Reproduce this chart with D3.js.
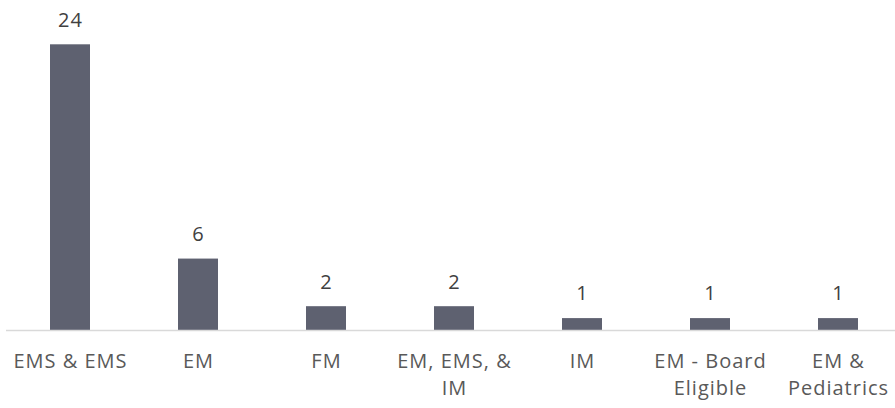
<!DOCTYPE html>
<html><head><meta charset="utf-8">
<script src="https://cdn.jsdelivr.net/npm/d3@7"></script>
<style>
html,body{margin:0;padding:0;background:#fff;}
svg{display:block;}
text{font-family:"Open Sans","Noto Sans",sans-serif;}
</style></head>
<body>
<svg id="chart" width="895" height="408"></svg>
<script>
const categories = ["EMS & EMS", "EM", "FM", "EM, EMS, & IM", "IM", "EM - Board Eligible", "EM & Pediatrics"];
const values = [24, 6, 2, 2, 1, 1, 1];

const svg = d3.select("#chart");
const baseY = 330;
const x = d3.scaleBand().domain(categories).range([6, 902]).paddingInner(0.6875).paddingOuter(0.34375);
const y = d3.scaleLinear().domain([0, 24]).range([baseY, 44.3]);
const fs = 20, ls = 1, maxW = 120, lineH = 27;

svg.append("g").selectAll("rect").data(values).join("rect")
  .attr("x", (d, i) => x(categories[i]))
  .attr("y", d => y(d))
  .attr("width", x.bandwidth())
  .attr("height", d => baseY - y(d))
  .attr("fill", "#5e6170");

svg.append("line").attr("x1", 6).attr("x2", 902).attr("y1", baseY + 0.5).attr("y2", baseY + 0.5)
  .attr("stroke", "#d9d9d9").attr("stroke-width", 1.5);

svg.append("g").selectAll("text").data(values).join("text")
  .attr("x", (d, i) => x(categories[i]) + x.bandwidth() / 2 + ls / 2)
  .attr("y", d => y(d) - 17.6)
  .attr("text-anchor", "middle")
  .attr("font-size", fs)
  .attr("letter-spacing", ls)
  .attr("fill", "#404040")
  .text(d => d);

const labels = svg.append("g").selectAll("text").data(categories).join("text")
  .attr("text-anchor", "middle")
  .attr("font-size", fs)
  .attr("letter-spacing", ls)
  .attr("fill", "#595959")
  .attr("x", d => x(d) + x.bandwidth() / 2 + ls / 2)
  .attr("y", 368);

labels.each(function(d) {
  const t = d3.select(this);
  const cx = +t.attr("x");
  const words = d.split(" ");
  let lines = [], cur = [];
  const probe = t.append("tspan");
  words.forEach(w => {
    const test = cur.concat([w]).join(" ");
    probe.text(test);
    if (probe.node().getComputedTextLength() > maxW && cur.length) { lines.push(cur.join(" ")); cur = [w]; }
    else cur.push(w);
  });
  lines.push(cur.join(" "));
  probe.remove();
  lines.forEach((l, i) => t.append("tspan").attr("x", cx).attr("dy", i ? lineH : 0).text(l));
});
</script>
</body></html>
